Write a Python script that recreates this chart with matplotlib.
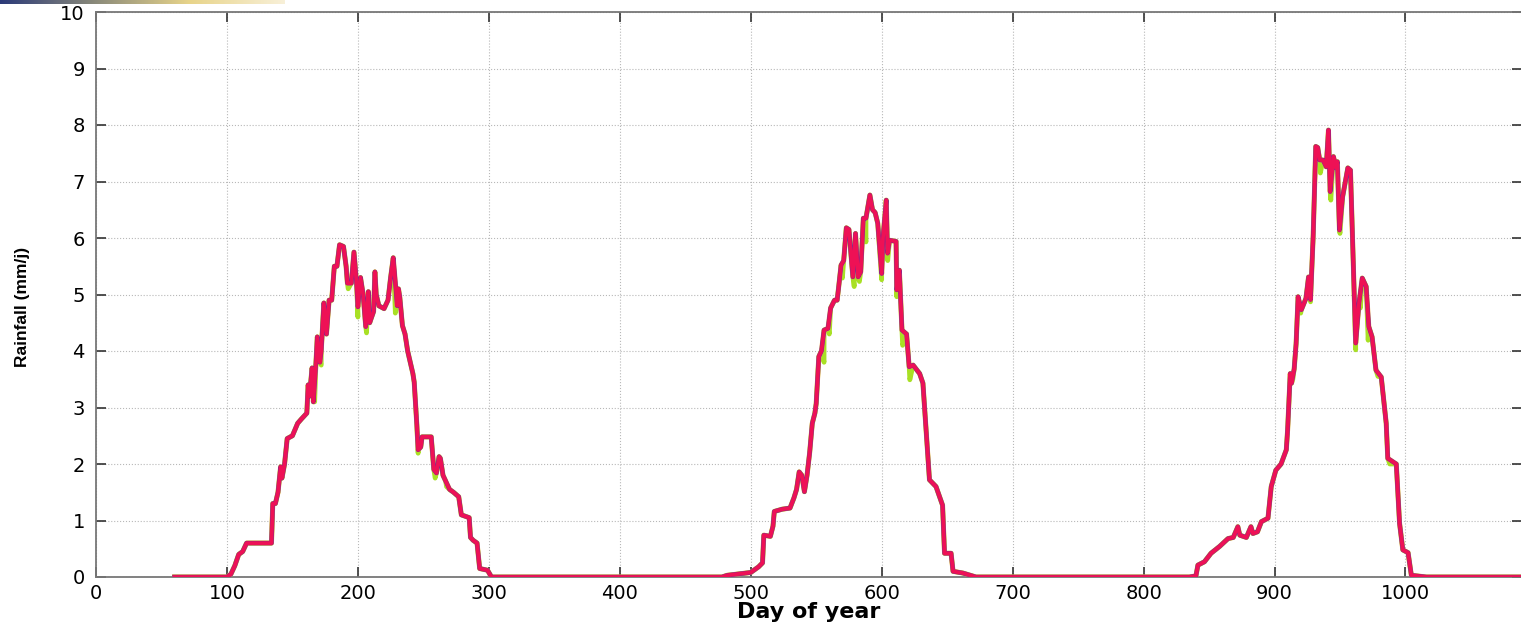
import numpy as np
import matplotlib
matplotlib.use("Agg")
import matplotlib.pyplot as plt
from matplotlib import font_manager
from matplotlib.colors import LinearSegmentedColormap

# rainfall (day, mm/j) - main (red) series
days = [60, 100, 103, 106, 109, 112, 115, 134, 135, 137, 139, 141, 142, 144, 146, 150, 154, 157,
        161, 162, 163, 165, 166, 168, 169, 171, 172, 174, 176, 178, 180, 182, 184, 186, 189, 191,
        192, 195, 197, 199, 200, 202, 204, 206, 208, 209, 212, 213, 214, 216, 220, 223, 225, 227,
        229, 230, 231, 232, 234, 236, 238, 240, 242, 243, 245, 246, 248, 249, 256, 258, 260, 262,
        263, 265, 267, 270, 273, 277, 279, 285, 286, 288, 291, 293, 299, 302,
        478, 482, 500, 506, 509, 510, 515, 517, 518, 524, 530, 533, 535, 537, 539, 541, 543, 545,
        547, 549, 550, 552, 554, 556, 559, 561, 564, 566, 567, 569, 571, 573, 575, 578, 580, 582,
        584, 586, 588, 591, 593, 595, 597, 600, 601, 603.5, 604.5, 606, 611, 611.5, 613.5, 615.5,
        619, 621, 624, 629, 631.5, 636.5, 641.5, 646.5, 648, 653, 654.5, 662, 672,
        835, 840, 841.5, 846.5, 851.5, 858, 864.5, 868.5, 872, 873.5, 878.5, 882, 883.5, 887, 890,
        895, 897.5, 901, 905, 909, 910, 912, 913, 915, 916.5, 918, 920.5, 924, 926, 927.5, 929.5,
        931.5, 933, 934.5, 937, 939.5, 941.2, 942.5, 945, 947, 948, 949.6, 952, 956, 958, 960,
        962, 964.5, 967, 970, 972, 974.5, 977.5, 981.5, 985.3, 986.5, 993, 995.5, 998, 1002,
        1004.5, 1016, 1089]
rain = [0, 0, 0.05, 0.2, 0.4, 0.45, 0.6, 0.6, 1.3, 1.3, 1.5, 1.95, 1.75, 2.0, 2.45, 2.5, 2.72, 2.8,
        2.9, 3.4, 3.2, 3.7, 3.1, 3.8, 4.25, 3.8, 4.0, 4.85, 4.3, 4.9, 4.9, 5.5, 5.5, 5.88, 5.85, 5.5,
        5.2, 5.2, 5.75, 5.2, 4.78, 5.3, 5.0, 4.43, 5.05, 4.5, 4.7, 5.4, 5.0, 4.8, 4.75, 4.9, 5.3, 5.65,
        5.1, 4.8, 5.1, 4.95, 4.45, 4.3, 4.0, 3.8, 3.6, 3.45, 2.7, 2.25, 2.3, 2.48, 2.48, 1.9, 1.84, 2.13,
        2.1, 1.8, 1.7, 1.55, 1.5, 1.42, 1.1, 1.05, 0.7, 0.65, 0.6, 0.15, 0.12, 0,
        0, 0.03, 0.08, 0.18, 0.25, 0.74, 0.72, 0.9, 1.16, 1.2, 1.22, 1.4, 1.55, 1.86, 1.8, 1.51, 1.8, 2.2,
        2.72, 2.9, 3.07, 3.9, 4.0, 4.37, 4.4, 4.76, 4.9, 4.9, 5.1, 5.52, 5.6, 6.18, 6.15, 5.31, 6.08, 5.31,
        5.4, 6.35, 6.35, 6.76, 6.5, 6.45, 6.26, 5.37, 6.0, 6.67, 5.73, 5.96, 5.94, 5.08, 5.43, 4.37,
        4.3, 3.72, 3.75, 3.6, 3.43, 1.72, 1.6, 1.27, 0.42, 0.42, 0.1, 0.07, 0,
        0, 0.02, 0.21, 0.27, 0.42, 0.54, 0.68, 0.7, 0.89, 0.74, 0.7, 0.89, 0.77, 0.8, 0.98,
        1.04, 1.6, 1.89, 2.0, 2.25, 2.6, 3.6, 3.43, 3.68, 4.13, 4.96, 4.73, 4.93, 5.31, 4.91, 6.02,
        7.62, 7.6, 7.38, 7.38, 7.26, 7.91, 6.82, 7.44, 7.24, 7.35, 6.14, 6.73, 7.24, 7.2, 5.67,
        4.14, 4.85, 5.29, 5.14, 4.43, 4.25, 3.66, 3.54, 2.72, 2.1, 2.0, 0.95, 0.48, 0.43,
        0.03, 0, 0]

# the green series sits a little lower at the dips
dip_days = [167, 172, 192.6, 200, 206.6, 228.6, 246, 259, 267.7,
            556, 560, 570, 579, 583, 588, 600, 604.6, 611.5, 616, 621.5,
            914, 920, 927.5, 935, 943, 950, 962, 965.6, 971.5, 979, 988]
dip_rain = [3.1, 3.75, 5.1, 4.6, 4.32, 4.67, 2.19, 1.75, 1.6,
            3.8, 4.3, 5.29, 5.14, 5.23, 5.93, 5.26, 5.6, 4.96, 4.1, 3.49,
            3.5, 4.67, 4.87, 7.15, 6.67, 6.08, 4.02, 4.76, 4.19, 3.55, 2.0]

xticks = list(range(0, 1001, 100))
yticks = list(range(0, 11))

installed = {f.name for f in font_manager.fontManager.ttflist}
if 'Liberation Sans Narrow' in installed:
    ylab_font = dict(family='Liberation Sans Narrow', fontsize=15, fontweight='bold')
else:
    ylab_font = dict(family='Liberation Sans', fontsize=12.5, fontweight='bold')

fig = plt.figure(figsize=(15.21, 6.25), dpi=100)
ax = fig.add_axes([96 / 1521, 48 / 625, 1426 / 1521, 565 / 625])

green = sorted(list(zip(days, rain)) + list(zip(dip_days, dip_rain)))
gd = [p[0] for p in green]
gv = [p[1] for p in green]

ax.plot(gd, gv, color='#a8e024', lw=3.4, zorder=2)
ax.plot(days, rain, color='#f2a040', lw=3.6, zorder=3)
ax.plot(days, rain, color='#6a2a9a', lw=3.2, zorder=4)
ax.plot(days, rain, color='#ee1155', lw=2.7, zorder=5)

ax.set_xlim(0, 1089)
ax.set_ylim(0, 10)
ax.set_xticks(xticks)
ax.set_yticks(yticks)
ax.grid(True, linestyle=':', color='#b8b8b8', lw=0.8)
ax.set_axisbelow(True)

ax.tick_params(direction='in', top=True, right=True, length=7, width=1.2,
               color='#333333', labelsize=14)
ax.tick_params(axis='x', pad=5)
ax.tick_params(axis='y', pad=8, labelsize=14)
for s in ax.spines.values():
    s.set_color('#777777')
    s.set_linewidth(1.3)

ax.set_xlabel('Day of year', fontsize=16, fontweight='bold', labelpad=-1)
ax.set_ylabel('Rainfall (mm/j)', **ylab_font)
ax.yaxis.set_label_coords(-0.046, 0.478)

# bit of slide decoration cut off at the top left
band = fig.add_axes([0, 1 - 4 / 625, 285 / 1521, 4 / 625])
grad = np.linspace(0, 1, 256)[None, :]
cm = LinearSegmentedColormap.from_list('band', ['#2b3a78', '#8a8a7a', '#e8d48a', '#f8f0d8'])
band.imshow(grad, aspect='auto', cmap=cm)
band.axis('off')

fig.savefig('out.png', dpi=100)
